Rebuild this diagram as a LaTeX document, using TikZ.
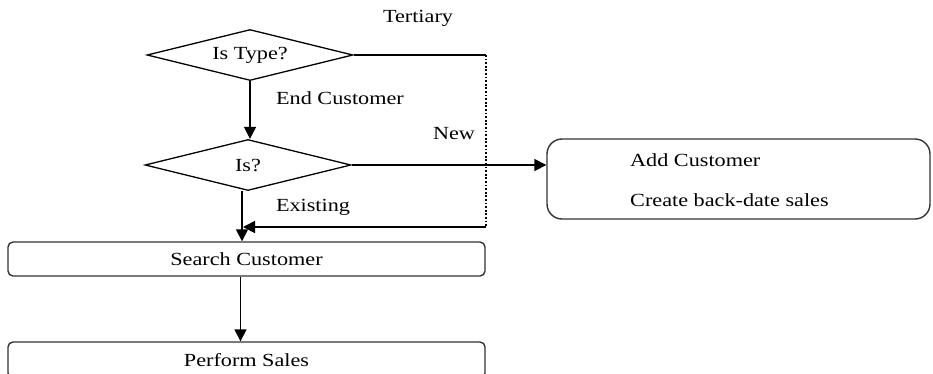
\documentclass[tikz,border=0pt]{standalone}
\usepackage{fontspec}
\setmainfont{Liberation Serif}[FakeStretch=1.2]
\usetikzlibrary{shapes.geometric,arrows.meta}
\begin{document}
\begin{tikzpicture}[x=1pt,y=-1pt,
  every node/.style={font=\fontsize{18.5}{22}\selectfont},
  decision/.style={diamond,draw,line width=1.3pt,inner sep=0pt,aspect=4,
    minimum width=206pt,minimum height=51pt},
  process/.style={draw=black!80,line width=1.4pt,rounded corners=5pt,
    minimum width=477pt,minimum height=34pt,inner sep=0pt},
  bigbox/.style={draw=black!80,line width=1.4pt,rounded corners=15pt,
    minimum width=383pt,minimum height=80pt,inner sep=0pt},
  caption/.style={inner sep=0pt},
  flow/.style={line width=1.6pt},
  arr/.style={flow,-{Triangle[length=12pt,width=12pt]}},
  dots/.style={line width=2.4pt,dash pattern=on 1.8pt off 1.8pt}]
\useasboundingbox (0,0) rectangle (933,373);

% decisions and process boxes
\node[decision] (type) at (250,55) {Is Type?};
\node[decision] (is) at (248,165) {Is?};
\node[process] (search) at (246.5,259) {Search Customer};
\node[process,minimum height=36pt] (perform) at (246.5,360) {};
\node[caption] (performtxt) at (246.5,360) {Perform Sales};
\node[bigbox] (add) at (738.5,179) {};
\node[caption,anchor=west] (addtxt) at (630,160) {Add Customer};
\node[caption,anchor=west] (backtxt) at (630,200) {Create back-date sales};

% branch labels
\node[caption] (tert) at (418,18) {Tertiary};
\node[caption] (endc) at (340,98) {End Customer};
\node[caption] (new) at (454,134) {New};
\node[caption] (exist) at (313,207) {Existing};

% connectors
\coordinate (t1) at (486,55);
\coordinate (t2) at (486,227);
\coordinate (t3) at (243,227);
\draw[flow] (type.east) -- (t1);
\draw[dots] (t1) -- (t2);
\draw[arr] (t2) -- (t3);
\draw[arr] (type.south) -- (type.south |- is.north);
\draw[arr] (is.east) -- (is.east -| add.west);
\draw[arr] ([xshift=-6pt]is.south) -- ([xshift=-6pt]is.south |- search.north);
\draw[arr] ([xshift=-6pt]search.south) -- ([xshift=-6pt]search.south |- perform.north);
\end{tikzpicture}
\end{document}
